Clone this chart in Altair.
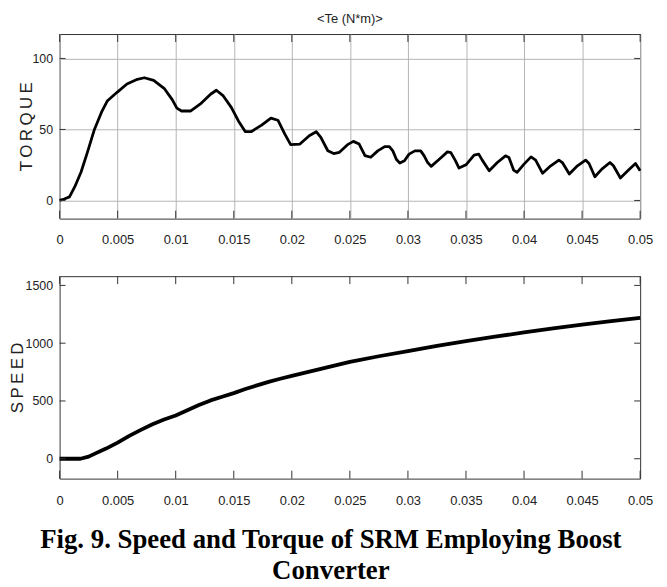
import altair as alt
import pandas as pd

# ---------------- data ----------------
t_torque = [
    0, 0.0004, 0.00085, 0.0013, 0.00185, 0.0024, 0.003, 0.0036, 0.0041, 0.005,
    0.0058, 0.0067, 0.0073, 0.0081, 0.009, 0.0097, 0.0101, 0.0105, 0.0113, 0.0121,
    0.013, 0.0135, 0.0141, 0.0148, 0.0154, 0.016, 0.0165, 0.0174, 0.0182, 0.0188,
    0.0194, 0.0199, 0.0207, 0.0215, 0.0221, 0.0225, 0.0231, 0.0236, 0.0241, 0.0248,
    0.0253, 0.0258, 0.0263, 0.0268,
    0.0274, 0.028, 0.0284, 0.0287, 0.029, 0.0293, 0.0297, 0.0301, 0.0306, 0.0311,
    0.0314, 0.0317, 0.032, 0.0327, 0.0334, 0.0337, 0.0341, 0.0344, 0.035, 0.0357,
    0.0361, 0.0364, 0.037, 0.0377, 0.0384, 0.0387, 0.0391, 0.0394, 0.04, 0.0406,
    0.041, 0.0416, 0.0423, 0.043, 0.0433, 0.0439, 0.0446, 0.0453, 0.0456, 0.0461,
    0.0467, 0.0474, 0.0477, 0.0483, 0.049, 0.0496, 0.05,
]
torque = [
    0, 1, 2.5, 9.5, 20, 34, 50, 62, 70, 76.5,
    82, 85.3, 86.4, 84.6, 79, 71, 65, 63, 63, 67.8,
    74.8, 77.6, 73.6, 65.4, 56, 48.4, 48.4, 53, 58, 56.5,
    46.7, 39.3, 39.7, 45.6, 48.4, 44.4, 35, 33, 33.9, 39.3,
    41.6, 39.7, 31.5, 30.4,
    34.9, 37.9, 37.9, 34.9, 29, 26.3, 27.9, 32.6, 34.9, 34.9,
    31.4, 26.7, 24, 29, 34.2, 33.7, 27.9, 22.8, 25.1, 31.9,
    32.6, 28.4, 20.9, 26.7, 31.4, 30.2, 21.4, 19.8, 25.6, 30.7,
    28.4, 19.1, 24.4, 28.4, 26.7, 18.6, 24.4, 28.4, 26, 16.7,
    22.1, 26.7, 24.4, 15.8, 21.4, 26, 20.9,
]

t_speed = [
    0, 0.0018, 0.0025, 0.003, 0.004, 0.005, 0.006, 0.007, 0.008, 0.009,
    0.01, 0.011, 0.012, 0.013, 0.014, 0.015, 0.016, 0.017, 0.018, 0.019,
    0.02, 0.0225, 0.025, 0.0275, 0.03, 0.0325, 0.035, 0.0375, 0.04, 0.0425,
    0.045, 0.0475, 0.05,
]
speed = [
    0, 0, 18, 42, 88, 140, 198, 250, 298, 340,
    375, 420, 465, 505, 537, 568, 603, 635, 665, 692,
    717, 777, 838, 887, 932, 977, 1018, 1056, 1093, 1128,
    1161, 1191, 1219,
]

x_ticks = [0, 0.005, 0.01, 0.015, 0.02, 0.025, 0.03, 0.035, 0.04, 0.045, 0.05]
torque_ticks = [0, 50, 100]
speed_ticks = [0, 500, 1000, 1500]

panel_title = "<Te (N*m)>"
torque_label = "T\u2009O\u2009R\u2009Q\u2009U\u2009E"
speed_label = "S\u2009P\u2009E\u2009E\u2009D"
caption = ["Fig. 9. Speed and Torque of SRM Employing Boost", "Converter"]

# ---------------- styling ----------------
W = 585
H1 = 186
H2 = 204
TICK_X = 8
TICK_Y = 6
NARROW = "Liberation Sans Narrow, Liberation Sans, Arial, sans-serif"
SANS = "Liberation Sans, Arial, sans-serif"
TXT = "#222222"
FRAME = "#333333"
GRID = "#b4b4b4"


def panel(t_vals, y_vals, ydomain, yticks, height, line_w, grid, ytitle, title_x, lab_pad, title=None):
    xscale = alt.Scale(domain=[0, 0.05], nice=False, zero=False)
    yscale = alt.Scale(domain=ydomain, nice=False, zero=False)
    df = pd.DataFrame({"t": t_vals, "v": y_vals})
    xaxis = alt.Axis(
        values=x_ticks, format="~g", labelFlush=False, ticks=False, domain=False,
        grid=grid, gridColor=GRID, gridWidth=1, labelPadding=lab_pad, title=None,
        labelFont=NARROW, labelFontSize=13, labelColor=TXT,
    )
    yaxis = alt.Axis(
        values=yticks, format="d", ticks=False, domain=False,
        grid=grid, gridColor=GRID, gridWidth=1, labelPadding=7,
        labelFont=NARROW, labelFontSize=12.5, labelColor=TXT,
        title=ytitle, titleX=-title_x, titleY=height / 2, titleAngle=270,
        titleAlign="center", titleBaseline="middle", titleFont=SANS,
        titleFontSize=17, titleFontWeight="normal", titleColor=TXT,
    )
    line = alt.Chart(df).mark_line(color="black", strokeWidth=line_w, strokeJoin="round").encode(
        x=alt.X("t:Q", scale=xscale, axis=xaxis),
        y=alt.Y("v:Q", scale=yscale, axis=yaxis),
    )
    xt = pd.DataFrame({"t": x_ticks})
    yt = pd.DataFrame({"v": yticks})
    rule = dict(color=FRAME, strokeWidth=1)
    top_t = alt.Chart(xt).mark_rule(**rule).encode(
        x=alt.X("t:Q", scale=xscale, axis=xaxis), y=alt.value(0), y2=alt.value(TICK_X))
    bot_t = alt.Chart(xt).mark_rule(**rule).encode(
        x=alt.X("t:Q", scale=xscale, axis=xaxis), y=alt.value(height), y2=alt.value(height - TICK_X))
    left_t = alt.Chart(yt).mark_rule(**rule).encode(
        y=alt.Y("v:Q", scale=yscale, axis=yaxis), x=alt.value(0), x2=alt.value(TICK_Y))
    right_t = alt.Chart(yt).mark_rule(**rule).encode(
        y=alt.Y("v:Q", scale=yscale, axis=yaxis), x=alt.value(W - TICK_Y), x2=alt.value(W))
    props = dict(width=W, height=height)
    if title:
        props["title"] = alt.TitleParams(
            title, font=NARROW, fontSize=13, fontWeight="normal", color=TXT, offset=8)
    return alt.layer(line, top_t, bot_t, left_t, right_t).properties(**props)


top = panel(t_torque, torque, [-12.8, 117.2], torque_ticks, H1, 2.8, True,
            torque_label, 33, 15, panel_title)
bottom = panel(t_speed, speed, [-172, 1580], speed_ticks, H2, 3.8, False,
               speed_label, 42, 16)

chart = alt.vconcat(top, bottom, spacing=28).properties(
    title=alt.TitleParams(
        caption, orient="bottom", anchor="middle", font="Liberation Serif",
        fontSize=27, fontWeight="bold", lineHeight=32, color="black", offset=19,
    ),
    padding={"left": 0, "top": 2, "right": 5, "bottom": 2},
).configure_view(stroke=FRAME, strokeWidth=1)

chart.save("out.html", embed_options={"renderer": "svg", "actions": False})
